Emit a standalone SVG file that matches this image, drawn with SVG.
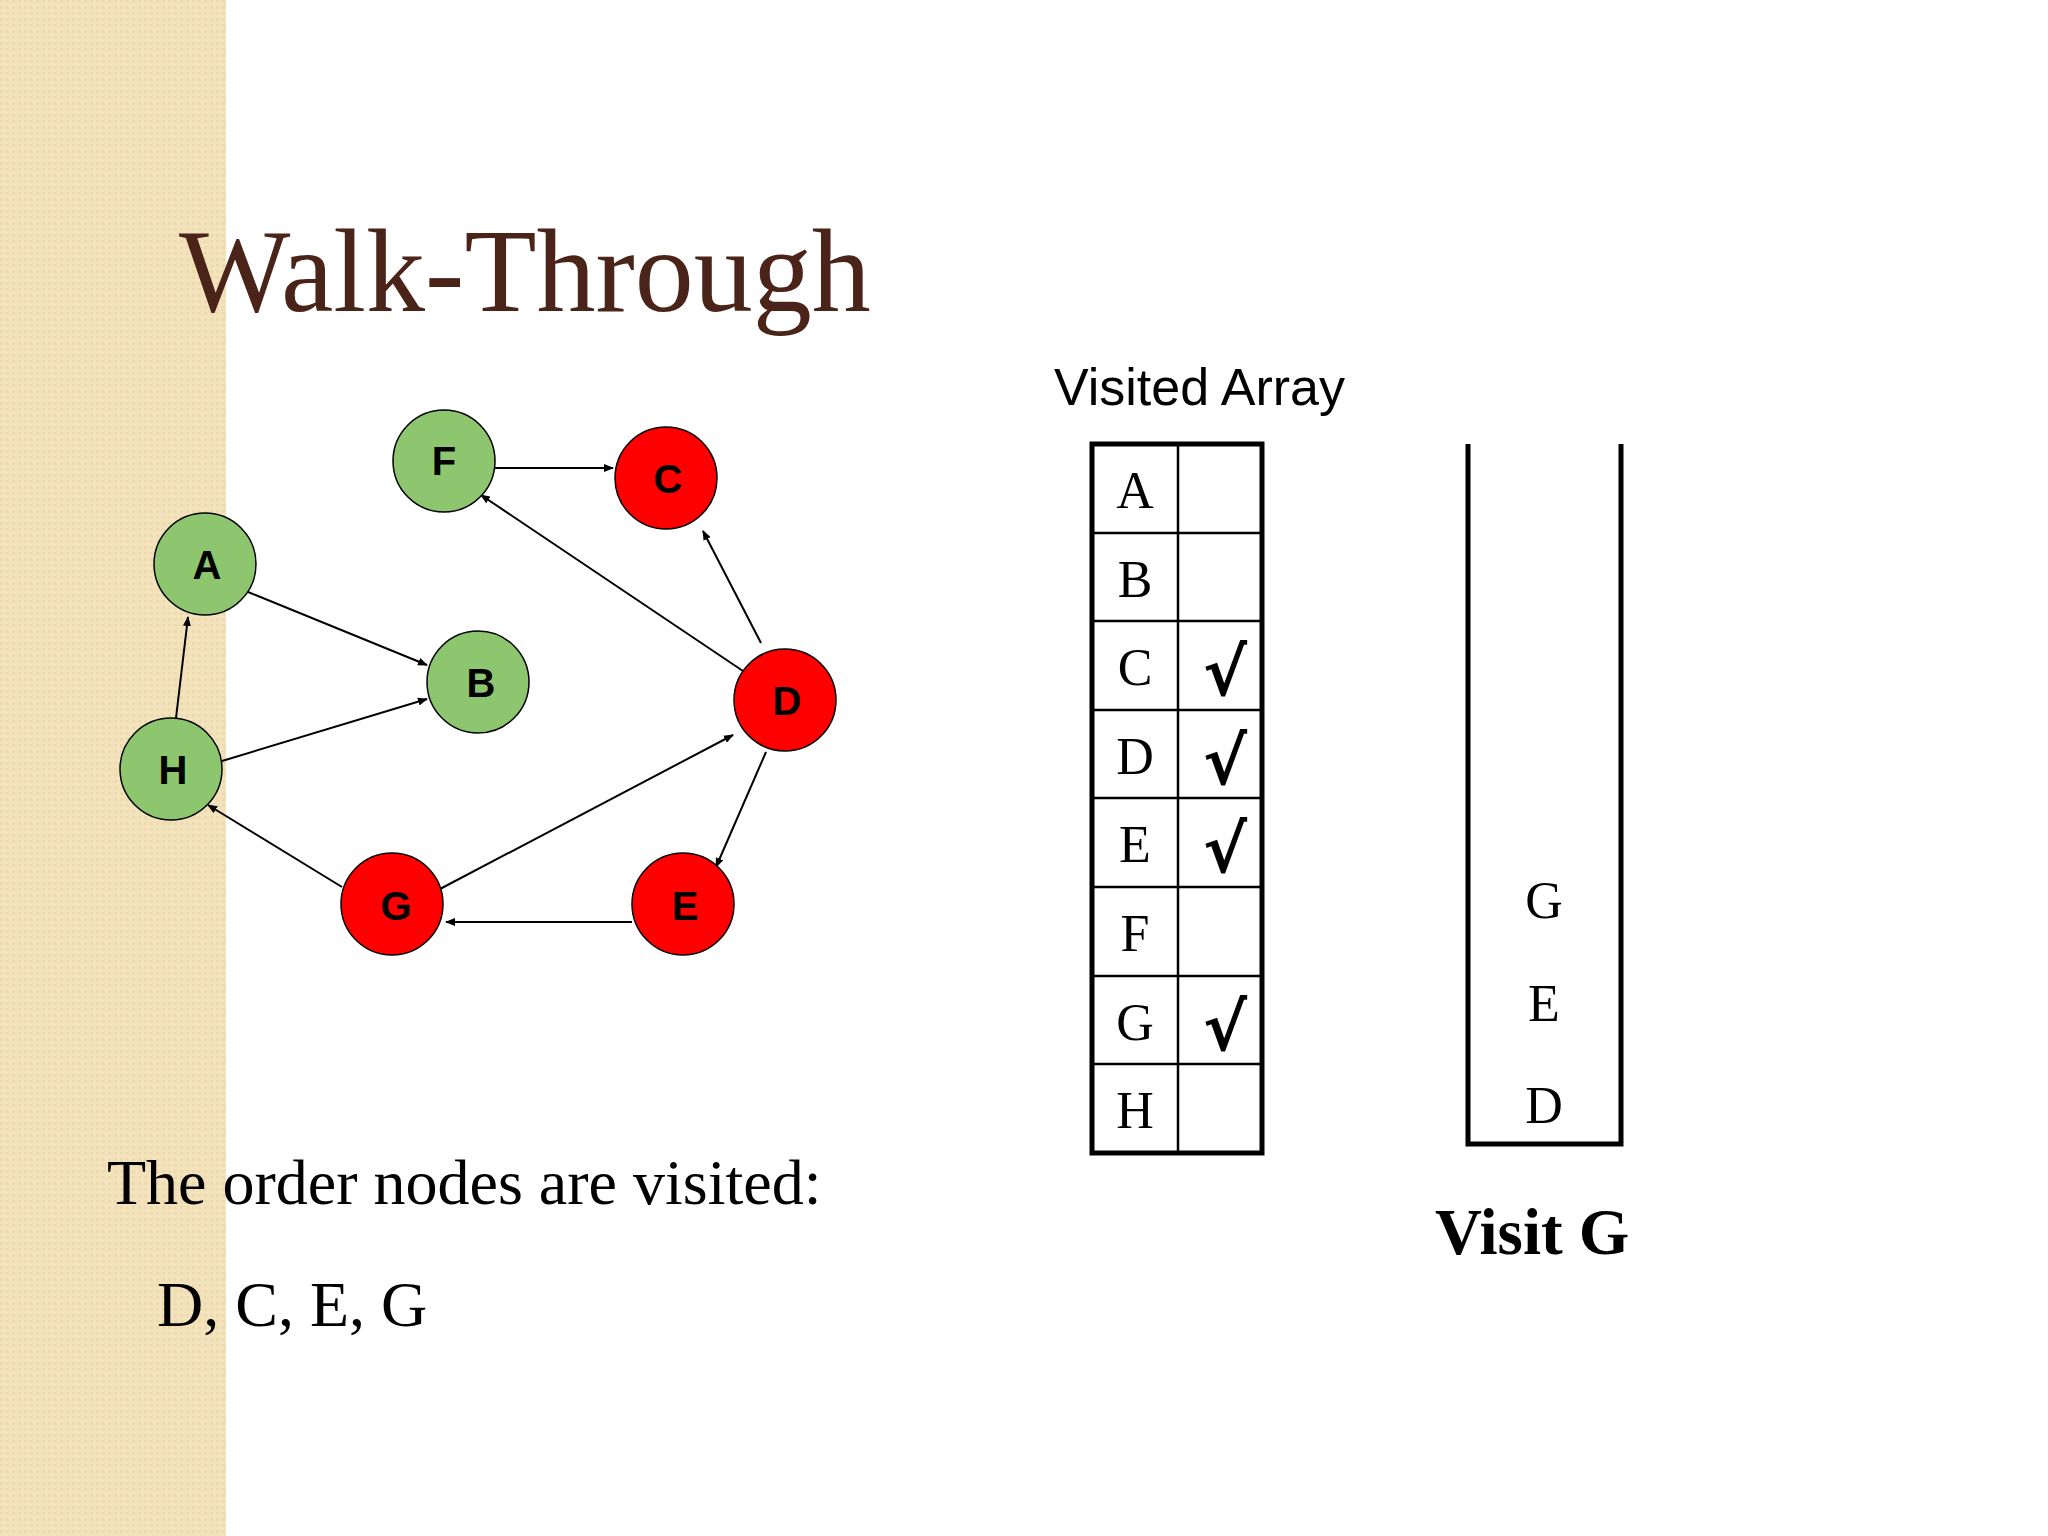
<svg xmlns="http://www.w3.org/2000/svg" width="2048" height="1536" viewBox="0 0 2048 1536">
<defs>
<pattern id="tex" width="6" height="6" patternUnits="userSpaceOnUse"><rect width="6" height="6" fill="#f3e3bd"/><rect width="3" height="3" fill="#eedaae"/></pattern>
<marker id="ah" markerWidth="10" markerHeight="8" refX="9" refY="4" orient="auto" markerUnits="userSpaceOnUse"><path d="M0,0 L10,4 L0,8 Z" fill="#000"/></marker>
<style>
.g{fill:#8dc66e;stroke:#000;stroke-width:1.5}
.r{fill:#ff0000;stroke:#000;stroke-width:1.5}
.nl{font-family:"Liberation Sans",Arial,sans-serif;font-weight:bold;font-size:40px;text-anchor:middle;fill:#000}
.e{stroke:#000;stroke-width:2;marker-end:url(#ah);fill:none}
.s{font-family:"Liberation Serif","Times New Roman",serif;fill:#000}
.tl{font-size:52px;text-anchor:middle}
.ck{font-family:"DejaVu Sans",sans-serif;font-size:66px;text-anchor:middle;font-weight:bold}
</style>
</defs>
<rect width="2048" height="1536" fill="#fff"/>
<rect width="226" height="1536" fill="url(#tex)"/>
<text x="179" y="311" font-family="Liberation Serif,serif" font-size="118" fill="#4a2418">Walk-Through</text>
<g id="connectors">
<line class="e" x1="495" y1="468" x2="613" y2="468"/>
<line class="e" x1="761" y1="643" x2="703" y2="531"/>
<line class="e" x1="743" y1="671" x2="481" y2="495"/>
<line class="e" x1="248" y1="592" x2="427" y2="665"/>
<line class="e" x1="176" y1="718" x2="188" y2="617"/>
<line class="e" x1="222" y1="761" x2="427" y2="699"/>
<line class="e" x1="440" y1="889" x2="733" y2="735"/>
<line class="e" x1="766" y1="752" x2="716" y2="867"/>
<line class="e" x1="632" y1="922" x2="446" y2="922"/>
<line class="e" x1="342" y1="887" x2="208" y2="805"/>
</g>
<g id="F"><circle class="g" cx="444" cy="461" r="51"/><text class="nl" x="444" y="475">F</text></g>
<g id="C"><circle class="r" cx="666" cy="478" r="51"/><text class="nl" x="668" y="493">C</text></g>
<g id="A"><circle class="g" cx="205" cy="564" r="51"/><text class="nl" x="207" y="579">A</text></g>
<g id="B"><circle class="g" cx="478" cy="682" r="51"/><text class="nl" x="481" y="697">B</text></g>
<g id="D"><circle class="r" cx="785" cy="700" r="51"/><text class="nl" x="787" y="715">D</text></g>
<g id="H"><circle class="g" cx="171" cy="769" r="51"/><text class="nl" x="173" y="784">H</text></g>
<g id="G"><circle class="r" cx="392" cy="904" r="51"/><text class="nl" x="396" y="920">G</text></g>
<g id="E"><circle class="r" cx="683" cy="904" r="51"/><text class="nl" x="685" y="920">E</text></g>
<text x="1054" y="405" font-family="Liberation Sans,sans-serif" font-size="52">Visited Array</text>
<g id="table" stroke="#000" fill="none">
<line x1="1178" y1="444" x2="1178" y2="1153" stroke-width="2.5"/>
<g stroke-width="2.5">
<line x1="1092" y1="533" x2="1262" y2="533"/><line x1="1092" y1="621" x2="1262" y2="621"/>
<line x1="1092" y1="710" x2="1262" y2="710"/><line x1="1092" y1="798" x2="1262" y2="798"/>
<line x1="1092" y1="887" x2="1262" y2="887"/><line x1="1092" y1="976" x2="1262" y2="976"/>
<line x1="1092" y1="1064" x2="1262" y2="1064"/>
</g>
<rect x="1092" y="444" width="170" height="709" stroke-width="5"/>
</g>
<g class="s tl">
<text x="1135" y="508">A</text><text x="1135" y="597">B</text><text x="1135" y="685">C</text><text x="1135" y="774">D</text>
<text x="1135" y="862">E</text><text x="1135" y="951">F</text><text x="1135" y="1040">G</text><text x="1135" y="1128">H</text>
</g>
<g class="ck">
<text x="1225" y="695">√</text><text x="1225" y="784">√</text><text x="1225" y="872">√</text><text x="1225" y="1050">√</text>
</g>
<g id="stack" stroke="#000" stroke-width="5" fill="none">
<polyline points="1468,444 1468,1144 1621,1144 1621,444"/>
</g>
<g class="s tl"><text x="1544" y="918">G</text><text x="1544" y="1021">E</text><text x="1544" y="1123">D</text></g>
<text x="1435" y="1254" class="s" font-size="65" font-weight="bold">Visit G</text>
<text x="107" y="1204" class="s" font-size="64">The order nodes are visited:</text>
<text x="157" y="1326" class="s" font-size="64">D, C, E, G</text>
</svg>
